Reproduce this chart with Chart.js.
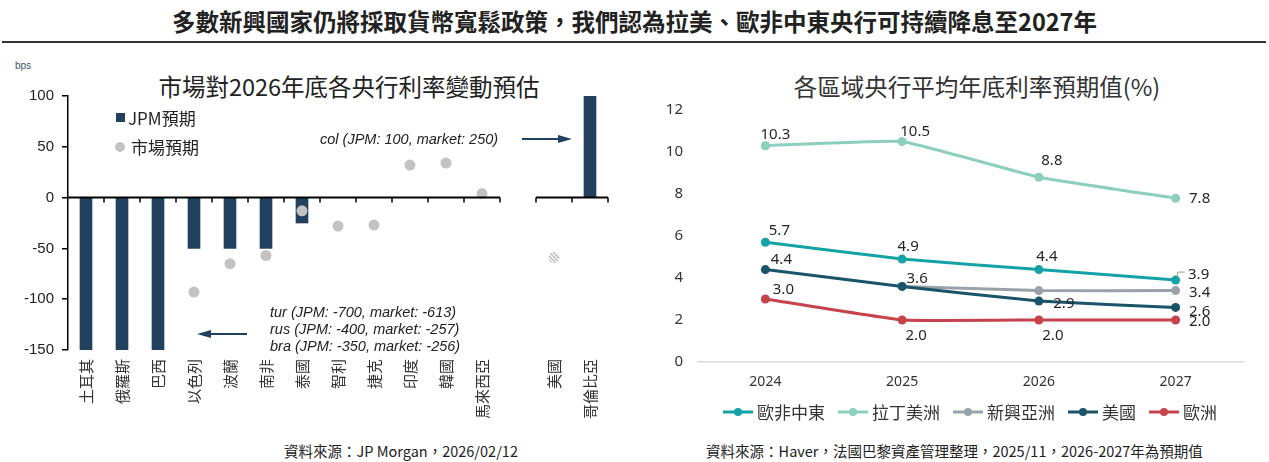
<!DOCTYPE html>
<html><head><meta charset="utf-8">
<script src="https://cdn.jsdelivr.net/npm/chart.js@4.4.1/dist/chart.umd.min.js"></script>
<style>
body{margin:0;width:1269px;height:462px;background:#fff;position:relative;overflow:hidden;font-family:"Noto Sans CJK TC","Noto Sans",sans-serif;color:#222;}
.abs{position:absolute;white-space:nowrap;}
canvas{position:absolute;}
.ann{font-family:"Liberation Sans",Arial,sans-serif;font-style:italic;font-size:14.5px;color:#222;line-height:17px;}
.lg{display:inline-flex;align-items:center;margin-right:12px;}
</style></head><body>
<div class="abs" style="top:4px;left:0;width:1269px;text-align:center;font-weight:700;font-size:23.5px;">多數新興國家仍將採取貨幣寬鬆政策，我們認為拉美、歐非中東央行可持續降息至2027年</div>
<div class="abs" style="top:41px;left:2px;width:1264px;border-top:2px solid #333;"></div>
<div class="abs" style="top:60px;left:15px;font-family:'Liberation Sans',Arial;font-size:10px;color:#44546A;">bps</div>
<div class="abs" style="top:69px;left:0;width:698px;text-align:center;font-size:23.5px;color:#222;">市場對2026年底各央行利率變動預估</div>
<div class="abs" style="top:69px;left:677px;width:600px;text-align:center;font-size:23.5px;color:#333;">各區域央行平均年底利率預期值(%)</div>

<canvas id="left" width="640" height="360" style="left:0;top:79px;"></canvas>
<canvas id="right" width="629" height="310" style="left:640px;top:87px;"></canvas>

<div class="abs" style="top:105px;left:116px;font-size:17px;display:flex;align-items:center;"><span style="display:inline-block;width:9px;height:9px;background:#22415E;margin-right:3px;"></span>JPM預期</div>
<div class="abs" style="top:134px;left:115px;font-size:17px;display:flex;align-items:center;"><span style="display:inline-block;width:10px;height:10px;border-radius:50%;background:#C3C3C3;margin-right:6px;"></span>市場預期</div>

<div class="abs ann" style="top:131px;left:320px;">col (JPM: 100, market: 250)</div>
<svg class="abs" style="left:520px;top:132px;" width="56" height="14"><line x1="2" y1="7" x2="44" y2="7" stroke="#22415E" stroke-width="2"/><polygon points="52,7 38,3 38,11" fill="#22415E"/></svg>
<div class="abs ann" style="top:304px;left:270px;">tur (JPM: -700, market: -613)<br>rus (JPM: -400, market: -257)<br>bra (JPM: -350, market: -256)</div>
<svg class="abs" style="left:194px;top:327px;" width="56" height="14"><line x1="12" y1="7" x2="53" y2="7" stroke="#22415E" stroke-width="2"/><polygon points="3,7 17,3 17,11" fill="#22415E"/></svg>

<div class="abs" id="rlegend" style="top:399px;left:0;width:1269px;padding-left:722px;box-sizing:border-box;font-size:17px;color:#333;display:flex;align-items:center;"></div>

<div class="abs" style="top:440px;left:0;width:802px;text-align:center;font-size:14.5px;color:#222;">資料來源：JP Morgan，2026/02/12</div>
<div class="abs" style="top:440px;left:640px;width:629px;text-align:center;font-size:14.5px;color:#222;">資料來源：Haver，法國巴黎資產管理整理，2025/11，2026-2027年為預期值</div>

<script>
// ---- Left chart data ----
const countries = ['土耳其','俄羅斯','巴西','以色列','波蘭','南非','泰國','智利','捷克','印度','韓國','馬來西亞','','美國','哥倫比亞'];
const jpmExpect = [-700,-400,-350,-50,-50,-50,-25,0,0,0,0,0,null,0,100];
const marketExpect = [-613,-257,-256,-93,-65,-57,-13,-28,-27,32,34,4,null,-59,250];
const leftTicks = [-150,-100,-50,0,50,100];

// ---- Right chart data ----
const years = ['2024','2025','2026','2027'];
const emea = [5.7,4.9,4.4,3.9];
const latam = [10.3,10.5,8.8,7.8];
const emAsia = [null,3.6,3.4,3.4];
const usa = [4.4,3.6,2.9,2.6];
const europe = [3.0,2.0,2.0,2.0];
const seriesNames = ['歐非中東','拉丁美洲','新興亞洲','美國','歐洲'];
const rightTicks = [0,2,4,6,8,10,12];

// label layout (offsets from point)
const labelOffsets = [
  [[14,-12],[6,-12],[8,-13],[23,-5]],
  [[10,-11],[13,-10],[13,-16],[24,1]],
  [null,null,null,[24,2]],
  [[16,-10],[15,-8],[25,3],[24,4]],
  [[18,-9],[14,16],[14,16],[24,2]]
];
const colors = ['#13A3A6','#8CCFBD','#99A2A8','#1B5469','#C6434C'];

function hatch(){
  const c=document.createElement('canvas');c.width=c.height=4;
  const g=c.getContext('2d');g.fillStyle='#fff';g.fillRect(0,0,4,4);
  g.strokeStyle='#b5b5b5';g.lineWidth=1.3;
  g.beginPath();g.moveTo(-1,-1);g.lineTo(5,5);g.moveTo(-1,3);g.lineTo(1,5);g.moveTo(3,-1);g.lineTo(5,1);g.stroke();
  return g.createPattern(c,'repeat');
}
const hp = hatch();
const dotColors = marketExpect.map((v,i)=> countries[i]==='美國' ? hp : '#C3C3C3');

const zeroLine = {
  id:'zeroLine',
  afterDatasetsDraw(chart){
    const {ctx, scales:{x,y}} = chart;
    const y0 = y.getPixelForValue(0);
    const step = x.getPixelForValue(1)-x.getPixelForValue(0);
    const gap = countries.indexOf('');
    const groups = [[0,gap-1],[gap+1,countries.length-1]];
    ctx.save();
    ctx.strokeStyle='#000';ctx.lineWidth=2;
    groups.forEach(([a,b])=>{
      const l = x.getPixelForValue(a)-step/2, r = x.getPixelForValue(b)+step/2;
      ctx.beginPath();ctx.moveTo(a===0?l-1:l,y0);ctx.lineTo(r,y0);ctx.stroke();
      ctx.lineWidth=1.5;
      for(let k=a;k<=b+1;k++){
        if(k===0) continue;
        const px = x.getPixelForValue(k)-step/2;
        ctx.beginPath();ctx.moveTo(px,y0);ctx.lineTo(px,y0+5);ctx.stroke();
      }
      ctx.lineWidth=2;
    });
    ctx.restore();
  }
};

new Chart(document.getElementById('left'),{
  data:{
    labels:countries,
    datasets:[
      {type:'bar',label:'JPM預期',data:jpmExpect,backgroundColor:'#22415E',barThickness:12,order:2},
      {type:'line',label:'市場預期',data:marketExpect,showLine:false,pointRadius:5.5,pointHoverRadius:5.5,pointBackgroundColor:dotColors,pointBorderWidth:0,order:1}
    ]
  },
  options:{
    responsive:false,animation:false,
    layout:{padding:{top:16,right:32,left:0,bottom:0}},
    plugins:{legend:{display:false},tooltip:{enabled:false}},
    scales:{
      x:{
        offset:true,
        grid:{display:false,drawTicks:false},border:{display:false},
        ticks:{autoSkip:false,minRotation:90,maxRotation:90,padding:9,color:'#333',font:{family:'"Noto Sans CJK TC"',size:15}},
        afterFit(s){s.height=89;}
      },
      y:{
        min:-150,max:100,
        afterBuildTicks(s){s.ticks=leftTicks.map(v=>({value:v}));},
        grid:{display:true,drawOnChartArea:false,drawTicks:true,tickLength:6,color:'#000',lineWidth:1.5},
        border:{display:true,color:'#000',width:1.5},
        ticks:{padding:8,color:'#222',font:{family:'"Liberation Sans",Arial',size:15}},
        afterFit(s){s.width=68;}
      }
    }
  },
  plugins:[zeroLine]
});

const valueLabels = {
  id:'valueLabels',
  afterDatasetsDraw(chart){
    const {ctx} = chart;
    ctx.save();
    ctx.font='15px "Noto Sans"';ctx.fillStyle='#262626';ctx.textAlign='center';ctx.textBaseline='middle';
    chart.data.datasets.forEach((ds,di)=>{
      const meta = chart.getDatasetMeta(di);
      meta.data.forEach((pt,i)=>{
        const off = labelOffsets[di][i];
        if(!off || ds.data[i]==null) return;
        ctx.fillText(ds.data[i].toFixed(1), pt.x+off[0], pt.y+off[1]);
        if(di===0 && i===3){
          ctx.strokeStyle='#9a9a9a';ctx.lineWidth=1;
          ctx.beginPath();ctx.moveTo(pt.x+2,pt.y-3);ctx.lineTo(pt.x+2,pt.y-8);ctx.lineTo(pt.x+9,pt.y-8);ctx.stroke();
        }
      });
    });
    ctx.restore();
  }
};

const rightData = [emea,latam,emAsia,usa,europe];
new Chart(document.getElementById('right'),{
  type:'line',
  data:{
    labels:years,
    datasets:rightData.map((d,i)=>({
      label:seriesNames[i],data:d,borderColor:colors[i],backgroundColor:colors[i],
      pointBackgroundColor:colors[i],pointBorderWidth:0,pointRadius:4.5,pointHoverRadius:4.5,
      borderWidth:3,tension:0.1,spanGaps:false,order:[1,2,4,3,5][i]
    }))
  },
  options:{
    responsive:false,animation:false,
    layout:{padding:{top:8,right:25,left:0,bottom:0}},
    plugins:{legend:{display:false},tooltip:{enabled:false}},
    scales:{
      x:{
        offset:true,grid:{display:false,drawTicks:false},border:{display:false},
        ticks:{padding:12,color:'#333',font:{family:'"Noto Sans"',size:14}},
        afterFit(s){s.height=35;}
      },
      y:{
        min:0,max:12,
        afterBuildTicks(s){s.ticks=rightTicks.map(v=>({value:v}));},
        grid:{color:c=>c.tick&&c.tick.value===0?'#d9d9d9':'rgba(0,0,0,0)',drawTicks:false,lineWidth:1.5},
        border:{display:false},
        ticks:{padding:14,color:'#333',font:{family:'"Noto Sans"',size:15}},
        afterFit(s){s.width=57;}
      }
    }
  },
  plugins:[valueLabels]
});

// HTML legend for right chart
const lg = document.getElementById('rlegend');
seriesNames.forEach((n,i)=>{
  const s=document.createElement('span');s.className='lg';
  s.innerHTML='<svg width="32" height="10" style="margin-right:3px"><line x1="1" y1="5" x2="31" y2="5" stroke="'+colors[i]+'" stroke-width="3"/><circle cx="16" cy="5" r="4" fill="'+colors[i]+'"/></svg>'+n;
  lg.appendChild(s);
});
</script>
</body></html>
